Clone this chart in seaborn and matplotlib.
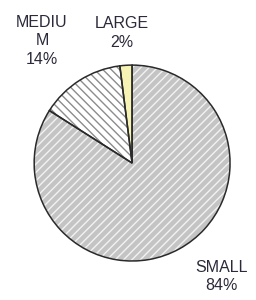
import numpy as np
import matplotlib
matplotlib.use("Agg")
import matplotlib.pyplot as plt
import seaborn as sns

categories = ["SMALL", "MEDIU\nM", "LARGE"]
shares = [84, 14, 2]
pct_labels = ["84%", "14%", "2%"]

sns.set_style("white")
plt.rcParams['font.family'] = ['Liberation Sans', 'DejaVu Sans']
plt.rcParams['hatch.linewidth'] = 1.0

fill_colors = ["#c4c4c4", "#ffffff", "#f6f3b4"]
hatch_colors = ["#f2f2f2", "#8c8c8c", "#f6f3b4"]
hatches = ["////", "\\\\\\\\", ""]
# label centres in pie-radius units
label_xy = [(0.91, -1.16), (-0.92, 1.25), (-0.10, 1.33)]

fig = plt.figure(figsize=(2.56, 3.0), dpi=100)
ax = fig.add_axes([0.133, 0.13, 0.766, 0.653])

wedges, _ = ax.pie(shares, startangle=90, counterclock=False, radius=1.0,
                   colors=fill_colors, wedgeprops=dict(linewidth=0))
for w, hc, h in zip(wedges, hatch_colors, hatches):
    w.set_edgecolor(hc)
    w.set_hatch(h)
    w.set_linewidth(0)

outline, _ = ax.pie(shares, startangle=90, counterclock=False, radius=1.0,
                    colors=["none"] * 3,
                    wedgeprops=dict(linewidth=1.1, edgecolor="#2a2a2a", fill=False))

for cat, pl, (lx, ly) in zip(categories, pct_labels, label_xy):
    ax.text(lx, ly, f"{cat}\n{pl}",
            ha="center", va="center", fontsize=11.5, color="#2a2a3a",
            linespacing=1.3)

ax.set_xlim(-1, 1)
ax.set_ylim(-1, 1)
ax.set_aspect("equal")
ax.axis("off")
fig.savefig("out.png", dpi=100)
